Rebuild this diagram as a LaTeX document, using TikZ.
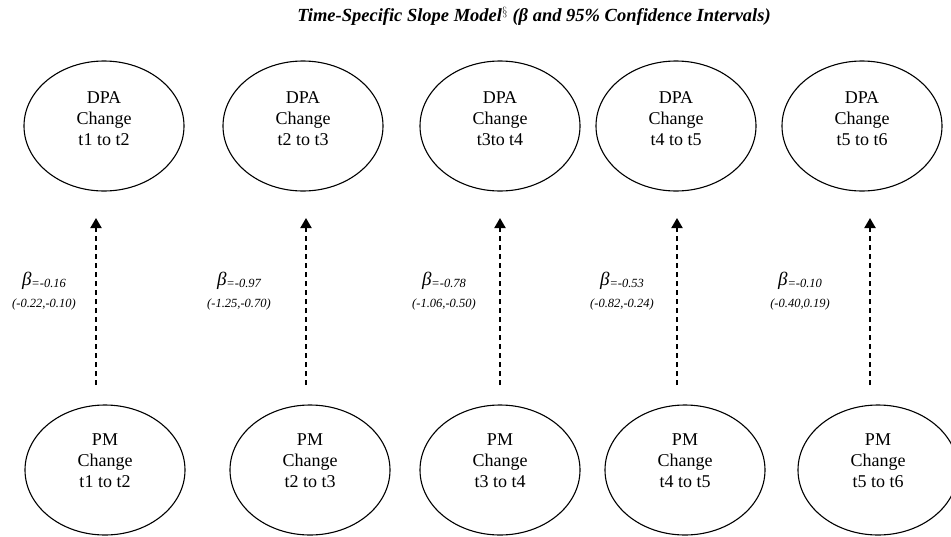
\documentclass[tikz,border=0pt]{standalone}
\usepackage{fontspec}
\setmainfont{Liberation Serif}
\usetikzlibrary{shapes.geometric,arrows.meta}
\tikzset{
  oval/.style={draw, line width=1.1pt, ellipse, minimum width=160pt, minimum height=130pt, inner sep=0pt},
  txt/.style={align=center, inner sep=0pt, font=\fontsize{18}{21}\selectfont},
  link/.style={line width=2pt, dash pattern=on 5pt off 4pt, -{Triangle[width=11pt,length=10pt]}},
  coef/.style={align=center, inner sep=0pt}
}
\newcommand{\bcoef}[2]{{\fontsize{19}{19}\selectfont\itshape β}\raisebox{-2pt}{\fontsize{12.5}{12.5}\selectfont\itshape #1}\\[8pt]{\fontsize{12.5}{13}\selectfont\itshape #2}}
\begin{document}
\begin{tikzpicture}[x=1pt,y=-1pt]
\useasboundingbox (0,0) rectangle (951,536);
\node[font=\fontsize{18.5}{21}\selectfont\bfseries\itshape] (title) at (534,16) {Time-Specific Slope Model$^{\S}$ (β and 95\% Confidence Intervals)};
% top ellipses
\foreach \n/\x/\t in {1/104/t1 to t2,2/303/t2 to t3,3/500/t3to t4,4/676/t4 to t5,5/862/t5 to t6}{
  \node[oval] (dpa\n) at (\x,126) {};
  \node[txt] (dpat\n) at ([yshift=7pt]dpa\n.center) {DPA\\Change\\\t};
}
% bottom ellipses
\foreach \n/\x/\t in {1/105/t1 to t2,2/310/t2 to t3,3/500/t3 to t4,4/685/t4 to t5,5/878/t5 to t6}{
  \node[oval] (pm\n) at (\x,470) {};
  \node[txt] (pmt\n) at ([yshift=9pt]pm\n.center) {PM\\Change\\\t};
}
% arrows
\foreach \n/\x in {1/96,2/306,3/500,4/677,5/870}{
  \coordinate (s\n) at (\x,385);
  \coordinate (e\n) at (\x,218);
  \draw[link] (s\n) -- (e\n);
}
% coefficients
\node[coef] (c1) at (44,291) {\bcoef{=-0.16}{(-0.22,-0.10)}};
\node[coef] (c2) at (239,291) {\bcoef{=-0.97}{(-1.25,-0.70)}};
\node[coef] (c3) at (444,291) {\bcoef{=-0.78}{(-1.06,-0.50)}};
\node[coef] (c4) at (622,291) {\bcoef{=-0.53}{(-0.82,-0.24)}};
\node[coef] (c5) at (800,291) {\bcoef{=-0.10}{(-0.40,0.19)}};
\end{tikzpicture}
\end{document}
